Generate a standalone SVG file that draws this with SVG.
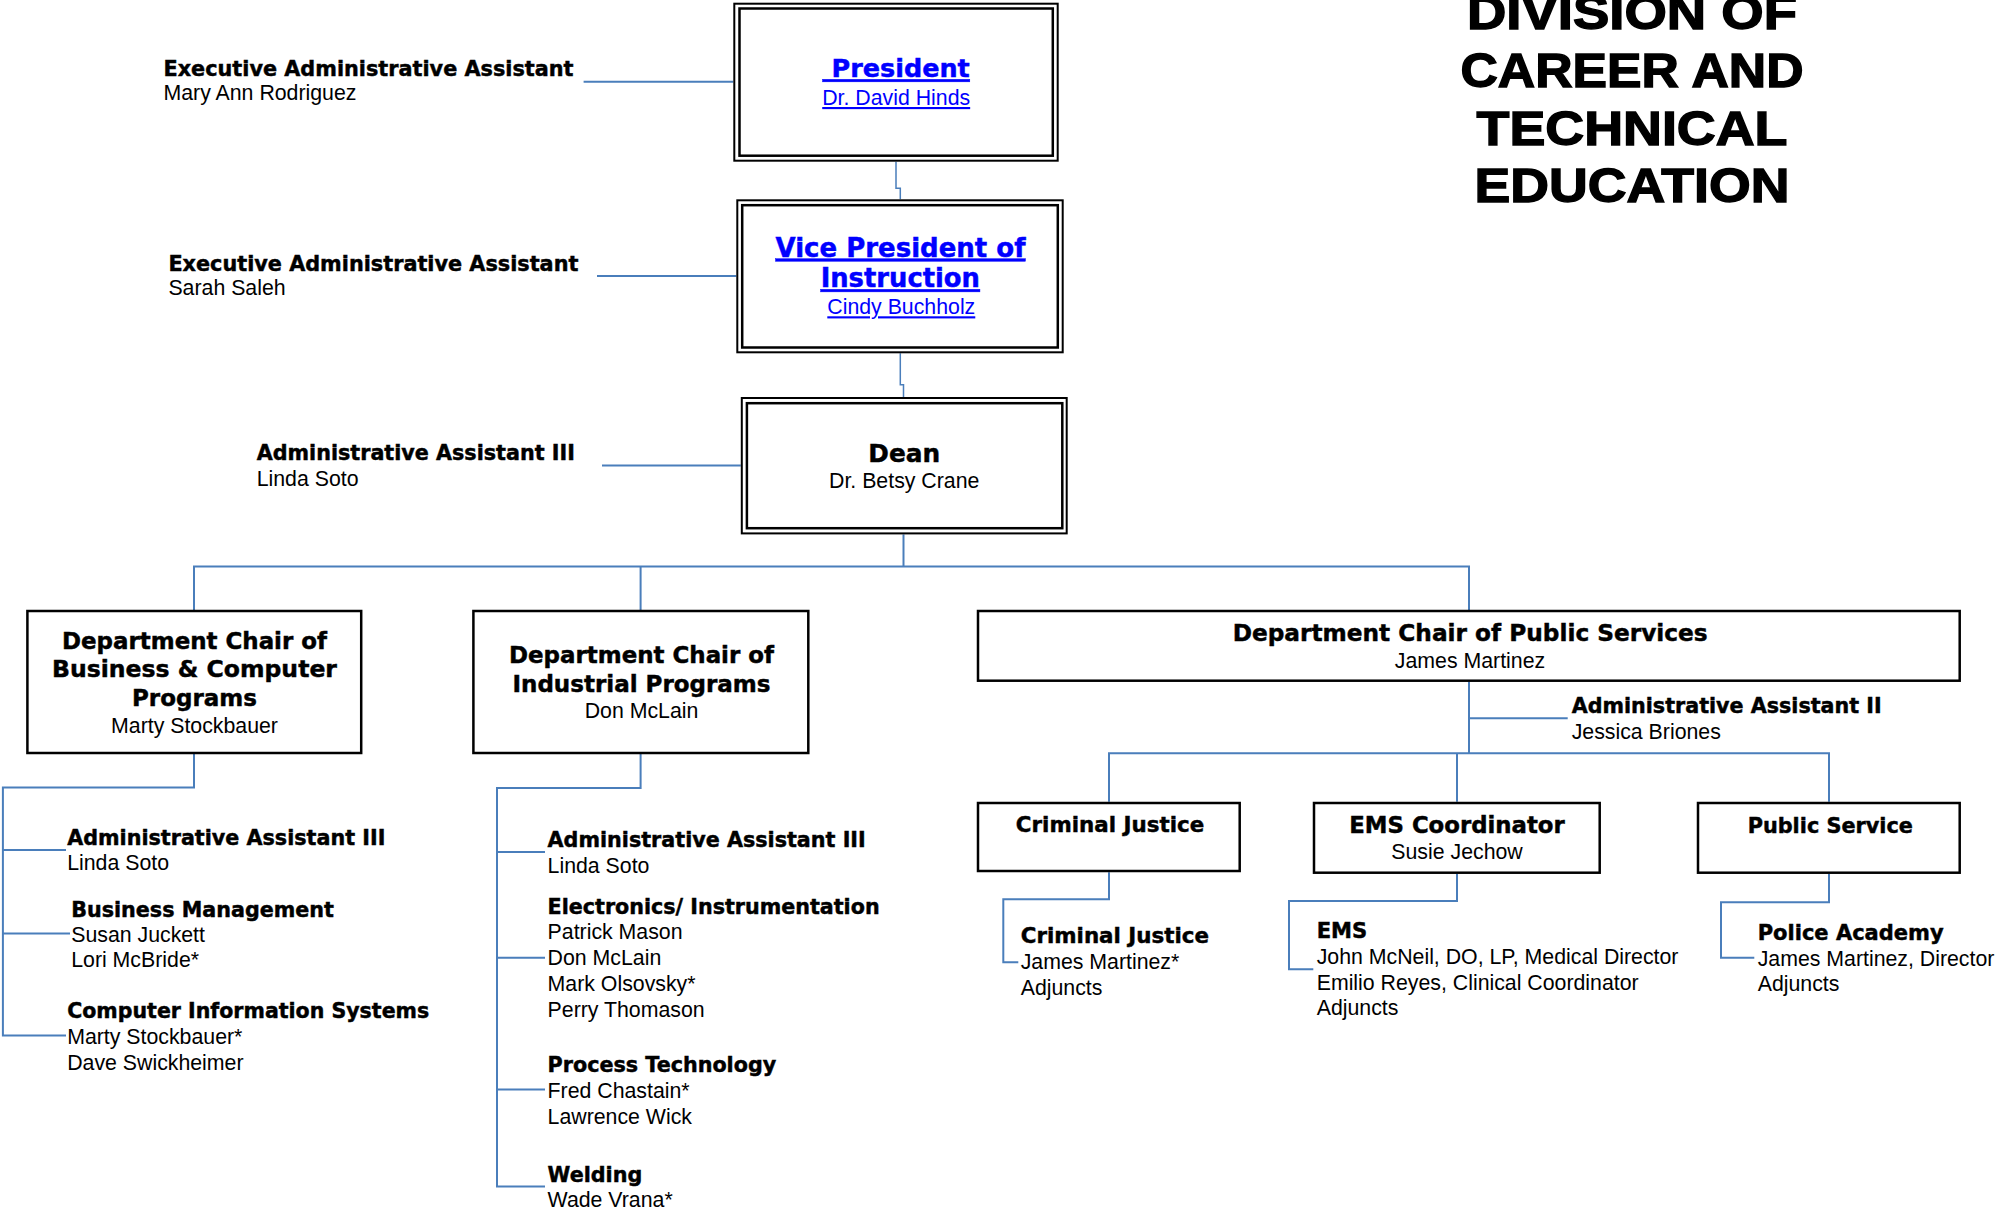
<svg xmlns="http://www.w3.org/2000/svg" width="1995" height="1212" viewBox="0 0 1995 1212">
<style>
.b{font-family:"DejaVu Sans","Liberation Sans",sans-serif;font-weight:bold;fill:#000;stroke:#000;stroke-width:0.45px}
.r{font-family:"Liberation Sans",Arial,sans-serif;font-size:21.3px;fill:#000}
.lnk{fill:#0000FF;text-decoration:underline}
.b.lnk{stroke:#0000FF}
.t{font-family:"Liberation Sans",Arial,sans-serif;font-weight:bold;font-size:49px;fill:#000;stroke:#000;stroke-width:1.4px;text-anchor:middle}
.m{text-anchor:middle}
.box{fill:#fff;stroke:#000;stroke-width:2.5}
.ob{fill:#fff;stroke:#000;stroke-width:2}
.ib{fill:none;stroke:#000;stroke-width:2.5}
.c{fill:none;stroke:#4A7EBB;stroke-width:2}
.c1{fill:none;stroke:#4A7EBB;stroke-width:1.5}
</style>
<rect width="1995" height="1212" fill="#fff"/>

<g id="title">
<text class="t" x="1632" y="28.6" textLength="330" lengthAdjust="spacingAndGlyphs">DIVISION OF</text>
<text class="t" x="1632" y="87" textLength="343" lengthAdjust="spacingAndGlyphs">CAREER AND</text>
<text class="t" x="1632" y="144.6" textLength="311" lengthAdjust="spacingAndGlyphs">TECHNICAL</text>
<text class="t" x="1632" y="201.7" textLength="315" lengthAdjust="spacingAndGlyphs">EDUCATION</text>
</g>

<g id="connectors">
<path class="c1" d="M896 161.7V188.3H900.3V199.3"/>
<path class="c1" d="M900.3 353.3V384.8H903.5V397"/>
<path class="c" d="M583.6 81.8H733.3"/>
<path class="c" d="M597 276H736.3"/>
<path class="c" d="M602 465.5H740.8"/>
<path class="c" d="M903.5 534.4V566.5"/>
<path class="c" d="M194 610V566.5H1469V610"/>
<path class="c" d="M640.6 566.5V610"/>
<path class="c" d="M194 754V787.6H2.9V1035.5H66"/>
<path class="c" d="M2.9 850H66M2.9 933.6H70"/>
<path class="c" d="M640.6 754V788H497V1186.5H545"/>
<path class="c" d="M497 852H545M497 957.7H545M497 1089.6H545"/>
<path class="c" d="M1469 682V753.3"/>
<path class="c" d="M1469 718.3H1567.7"/>
<path class="c" d="M1109 801.7V753.3H1829V801.7"/>
<path class="c" d="M1457 753.3V801.7"/>
<path class="c" d="M1109 872.3V899.3H1003.3V962.3H1018.3"/>
<path class="c" d="M1457 874V901H1289V969.3H1313.3"/>
<path class="c" d="M1829 874V902.3H1721V957.7H1754.3"/>
</g>

<g id="exec-asst-president">
<text class="b" x="163.5" y="75.7" font-size="20.7" textLength="410" lengthAdjust="spacingAndGlyphs">Executive Administrative Assistant</text>
<text class="r" x="163.5" y="100.3">Mary Ann Rodriguez</text>
</g>

<g id="exec-asst-vp">
<text class="b" x="168.4" y="270.6" font-size="20.7" textLength="410" lengthAdjust="spacingAndGlyphs">Executive Administrative Assistant</text>
<text class="r" x="168.4" y="295">Sarah Saleh</text>
</g>

<g id="admin-asst-dean">
<text class="b" x="256.7" y="459.5" font-size="20.7">Administrative Assistant III</text>
<text class="r" x="256.7" y="485.5">Linda Soto</text>
</g>

<g id="president">
<rect class="ob" x="734.3" y="3.7" width="323.4" height="157"/>
<rect class="ib" x="739.5" y="8.5" width="313.3" height="147.2"/>
<text class="b lnk m" x="896.2" y="77.3" font-size="25.5">&#160;President</text>
<text class="r lnk m" x="896.2" y="105">Dr. David Hinds</text>
</g>

<g id="vice-president">
<rect class="ob" x="737.3" y="200.3" width="325.4" height="152"/>
<rect class="ib" x="742.2" y="205.2" width="315.6" height="142.3"/>
<text class="b lnk m" x="900.5" y="256.7" font-size="26">Vice President of</text>
<text class="b lnk m" x="900.3" y="287.3" font-size="25.8">Instruction</text>
<text class="r lnk m" x="901.3" y="314.3">Cindy Buchholz</text>
</g>

<g id="dean">
<rect class="ob" x="741.8" y="398" width="324.9" height="135.4"/>
<rect class="ib" x="746.9" y="403.2" width="315.4" height="125"/>
<text class="b m" x="904.2" y="461.6" font-size="24.8">Dean</text>
<text class="r m" x="904.2" y="488">Dr. Betsy Crane</text>
</g>

<g id="chair-business">
<rect class="box" x="27.4" y="611" width="333.8" height="142" stroke-width="2"/>
<text class="b m" x="194.5" y="648.6" font-size="23" textLength="265" lengthAdjust="spacingAndGlyphs">Department Chair of</text>
<text class="b m" x="194.5" y="677.3" font-size="23.5" textLength="285" lengthAdjust="spacingAndGlyphs">Business &amp; Computer</text>
<text class="b m" x="194.5" y="705.6" font-size="23">Programs</text>
<text class="r m" x="194.5" y="732.6">Marty Stockbauer</text>
</g>

<g id="chair-industrial">
<rect class="box" x="473.4" y="611" width="334.9" height="142" stroke-width="2"/>
<text class="b m" x="641.5" y="662.8" font-size="23" textLength="265" lengthAdjust="spacingAndGlyphs">Department Chair of</text>
<text class="b m" x="641.5" y="692.3" font-size="23">Industrial Programs</text>
<text class="r m" x="641.5" y="718">Don McLain</text>
</g>

<g id="chair-public-services">
<rect class="box" x="978" y="611" width="981.7" height="69.7" stroke-width="2.6"/>
<text class="b m" x="1470.2" y="641" font-size="23.3" textLength="475" lengthAdjust="spacingAndGlyphs">Department Chair of Public Services</text>
<text class="r m" x="1470" y="668.3">James Martinez</text>
</g>

<g id="admin-asst-business">
<text class="b" x="67.2" y="845" font-size="20.7">Administrative Assistant III</text>
<text class="r" x="67.2" y="870">Linda Soto</text>
</g>
<g id="business-management">
<text class="b" x="71.2" y="916.5" font-size="20.7">Business Management</text>
<text class="r" x="71.2" y="942">Susan Juckett</text>
<text class="r" x="71.2" y="966.8">Lori McBride*</text>
</g>
<g id="computer-info-systems">
<text class="b" x="67.2" y="1017.6" font-size="20.7" textLength="362" lengthAdjust="spacingAndGlyphs">Computer Information Systems</text>
<text class="r" x="67.2" y="1043.8">Marty Stockbauer*</text>
<text class="r" x="67.2" y="1069.6">Dave Swickheimer</text>
</g>

<g id="admin-asst-industrial">
<text class="b" x="547.6" y="847" font-size="20.7">Administrative Assistant III</text>
<text class="r" x="547.6" y="872.8">Linda Soto</text>
</g>
<g id="electronics">
<text class="b" x="547.6" y="913.6" font-size="20.7" textLength="332" lengthAdjust="spacingAndGlyphs">Electronics/ Instrumentation</text>
<text class="r" x="547.6" y="939.4">Patrick Mason</text>
<text class="r" x="547.6" y="964.8">Don McLain</text>
<text class="r" x="547.6" y="990.6">Mark Olsovsky*</text>
<text class="r" x="547.6" y="1016.8">Perry Thomason</text>
</g>
<g id="process-technology">
<text class="b" x="547.6" y="1071.7" font-size="20.7">Process Technology</text>
<text class="r" x="547.6" y="1097.5">Fred Chastain*</text>
<text class="r" x="547.6" y="1123.7">Lawrence Wick</text>
</g>
<g id="welding">
<text class="b" x="547.6" y="1182" font-size="20.7">Welding</text>
<text class="r" x="547.6" y="1207">Wade Vrana*</text>
</g>

<g id="admin-asst-public">
<text class="b" x="1571.7" y="713.3" font-size="20.7" textLength="310" lengthAdjust="spacingAndGlyphs">Administrative Assistant II</text>
<text class="r" x="1571.7" y="739.3">Jessica Briones</text>
</g>

<g id="criminal-justice-box">
<rect class="box" x="978" y="803" width="261.7" height="68"/>
<text class="b m" x="1110" y="831.7" font-size="21.4">Criminal Justice</text>
</g>
<g id="ems-coordinator">
<rect class="box" x="1314" y="803" width="285.7" height="69.7"/>
<text class="b m" x="1457" y="833.3" font-size="22.8">EMS Coordinator</text>
<text class="r m" x="1457" y="859.3">Susie Jechow</text>
</g>
<g id="public-service-box">
<rect class="box" x="1698" y="803" width="261.7" height="69.7"/>
<text class="b m" x="1830.3" y="833.3" font-size="20.8">Public Service</text>
</g>

<g id="criminal-justice">
<text class="b" x="1020.7" y="943.3" font-size="21.4">Criminal Justice</text>
<text class="r" x="1020.7" y="969.3">James Martinez*</text>
<text class="r" x="1020.7" y="995">Adjuncts</text>
</g>
<g id="ems">
<text class="b" x="1316.7" y="938.3" font-size="21.1">EMS</text>
<text class="r" x="1316.7" y="964.3">John McNeil, DO, LP, Medical Director</text>
<text class="r" x="1316.7" y="990">Emilio Reyes, Clinical Coordinator</text>
<text class="r" x="1316.7" y="1015">Adjuncts</text>
</g>
<g id="police-academy">
<text class="b" x="1757.7" y="940" font-size="21">Police Academy</text>
<text class="r" x="1757.7" y="966">James Martinez, Director</text>
<text class="r" x="1757.7" y="991">Adjuncts</text>
</g>
</svg>
